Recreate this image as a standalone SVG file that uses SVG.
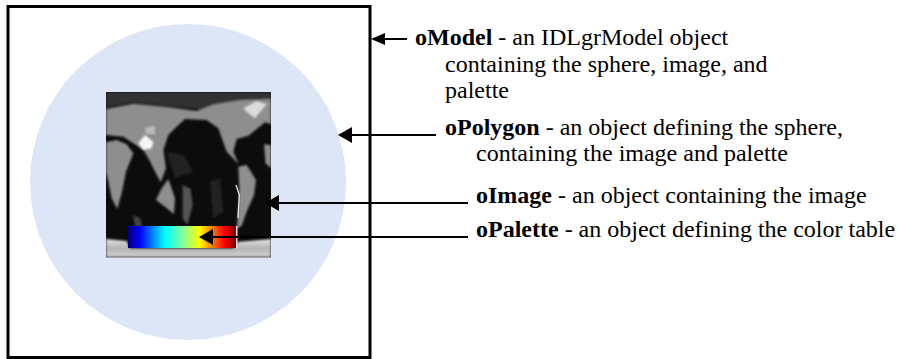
<svg xmlns="http://www.w3.org/2000/svg" width="899" height="359" viewBox="0 0 899 359">
<defs>
<style>
.t{font-family:"Liberation Serif","Times New Roman",serif;font-size:24px;fill:#000}
.b{font-weight:bold}
.c{stroke:#000;stroke-width:2;fill:none}
.h{fill:#000;stroke:none}
.land{fill:#8e8e8e}
</style>
<linearGradient id="pal" x1="0" x2="1" y1="0" y2="0">
<stop offset="0" stop-color="#00007f"/>
<stop offset=".11" stop-color="#0000ff"/>
<stop offset=".34" stop-color="#00ffff"/>
<stop offset=".5" stop-color="#7fffa0"/>
<stop offset=".66" stop-color="#ffff00"/>
<stop offset=".89" stop-color="#ff0000"/>
<stop offset="1" stop-color="#7f0000"/>
</linearGradient>
<linearGradient id="ice" x1="0" x2="0" y1="0" y2="1">
<stop offset="0" stop-color="#e4e4e4"/>
<stop offset=".5" stop-color="#b4b4b4"/>
<stop offset="1" stop-color="#cfcfcf"/>
</linearGradient>
<filter id="soft" x="-5%" y="-5%" width="110%" height="110%"><feGaussianBlur stdDeviation="3.5"/></filter>
<clipPath id="mapclip"><rect x="18" y="21" width="495" height="496"/></clipPath>
</defs>
<rect width="899" height="359" fill="#fff"/>
<g id="oModel"><rect x="8" y="6.5" width="362" height="351" fill="#fff" stroke="#000" stroke-width="3"/></g>
<g id="oPolygon"><circle cx="188" cy="182" r="158" fill="#dde6f7"/></g>
<g id="oImage">
<g transform="translate(100 85) scale(.33333)">
<rect x="18" y="21" width="495" height="496" fill="#0c0c0c"/>
<g clip-path="url(#mapclip)"><g filter="url(#soft)">
<path fill="#333" d="M18 21H513V48H420L340 55L300 72L200 62L100 52L18 66Z"/>
<path class="land" d="M18 72L100 56L200 66L290 78L340 58L420 46L513 42V118L495 112L470 132L445 152L410 162L400 200L416 238L395 215L380 200L355 130L320 105L255 102L225 130L205 150L190 195L198 250L182 292L160 250L148 225L130 195L100 175L70 155L18 150Z"/>
<path class="land" d="M18 172L50 165L80 178L100 205L78 260L66 320L52 372L35 340L25 290L18 262Z"/>
<path class="land" d="M168 345L185 310L205 282L225 340L222 388L195 365Z"/>
<path class="land" d="M415 245L440 240L468 285L462 330L440 380L425 422L410 432L416 370L418 310Z"/>
<path class="land" d="M492 178L513 180V250L497 235Z"/>
<path fill="#555" d="M248 300L272 312L278 360L262 420L248 400Z"/>
<path fill="#444" d="M100 390L120 400L128 425H105Z"/>
<path fill="#222" d="M330 290L360 280L370 380L340 400Z"/>
<path fill="#222" d="M200 200L250 210L280 260L225 280Z"/>
<path fill="url(#ice)" d="M18 462L80 468L90 490H400L415 470L513 462V517H18Z"/>
</g>
<path d="M115 175L135 150L160 170L155 190L130 195Z" fill="#f6f6f6" filter="url(#soft)"/>
<path d="M135 128L165 122L165 148L138 148Z" fill="#bbb" filter="url(#soft)"/>
<path d="M430 70L470 48L500 58L465 100L445 85Z" fill="#dcdcdc" filter="url(#soft)"/>
<path d="M408 300L418 330L414 400" fill="none" stroke="#e6e6e6" stroke-width="4"/>
</g>
</g>
</g>
<g id="oPalette">
<rect x="128" y="226" width="108" height="22" fill="url(#pal)"/>
<rect x="236" y="226" width="1.5" height="22" fill="#eee"/>
</g>
<g id="connectors">
<path class="c" d="M407 39H384"/><path class="h" d="M371 39L385 33V45Z"/>
<path class="c" d="M436 135H350"/><path class="h" d="M338 135L352 127V143Z"/>
<path class="c" d="M468 203H278"/><path class="h" d="M265 203L279 195V211Z"/>
<path class="c" d="M468 237H212"/><path class="h" d="M199 237L213 229V245Z"/>
</g>
<g id="label-oModel">
<text class="t" x="415" y="45"><tspan class="b">oModel</tspan> - an IDLgrModel object</text>
<text class="t" x="445" y="72">containing the sphere, image, and</text>
<text class="t" x="445" y="98">palette</text>
</g>
<g id="label-oPolygon">
<text class="t" x="445" y="135"><tspan class="b">oPolygon</tspan> - an object defining the sphere,</text>
<text class="t" x="476" y="161">containing the image and palette</text>
</g>
<g id="label-oImage">
<text class="t" x="476" y="203"><tspan class="b">oImage</tspan> - an object containing the image</text>
</g>
<g id="label-oPalette">
<text class="t" x="476" y="237"><tspan class="b">oPalette</tspan> - an object defining the color table</text>
</g>
</svg>
